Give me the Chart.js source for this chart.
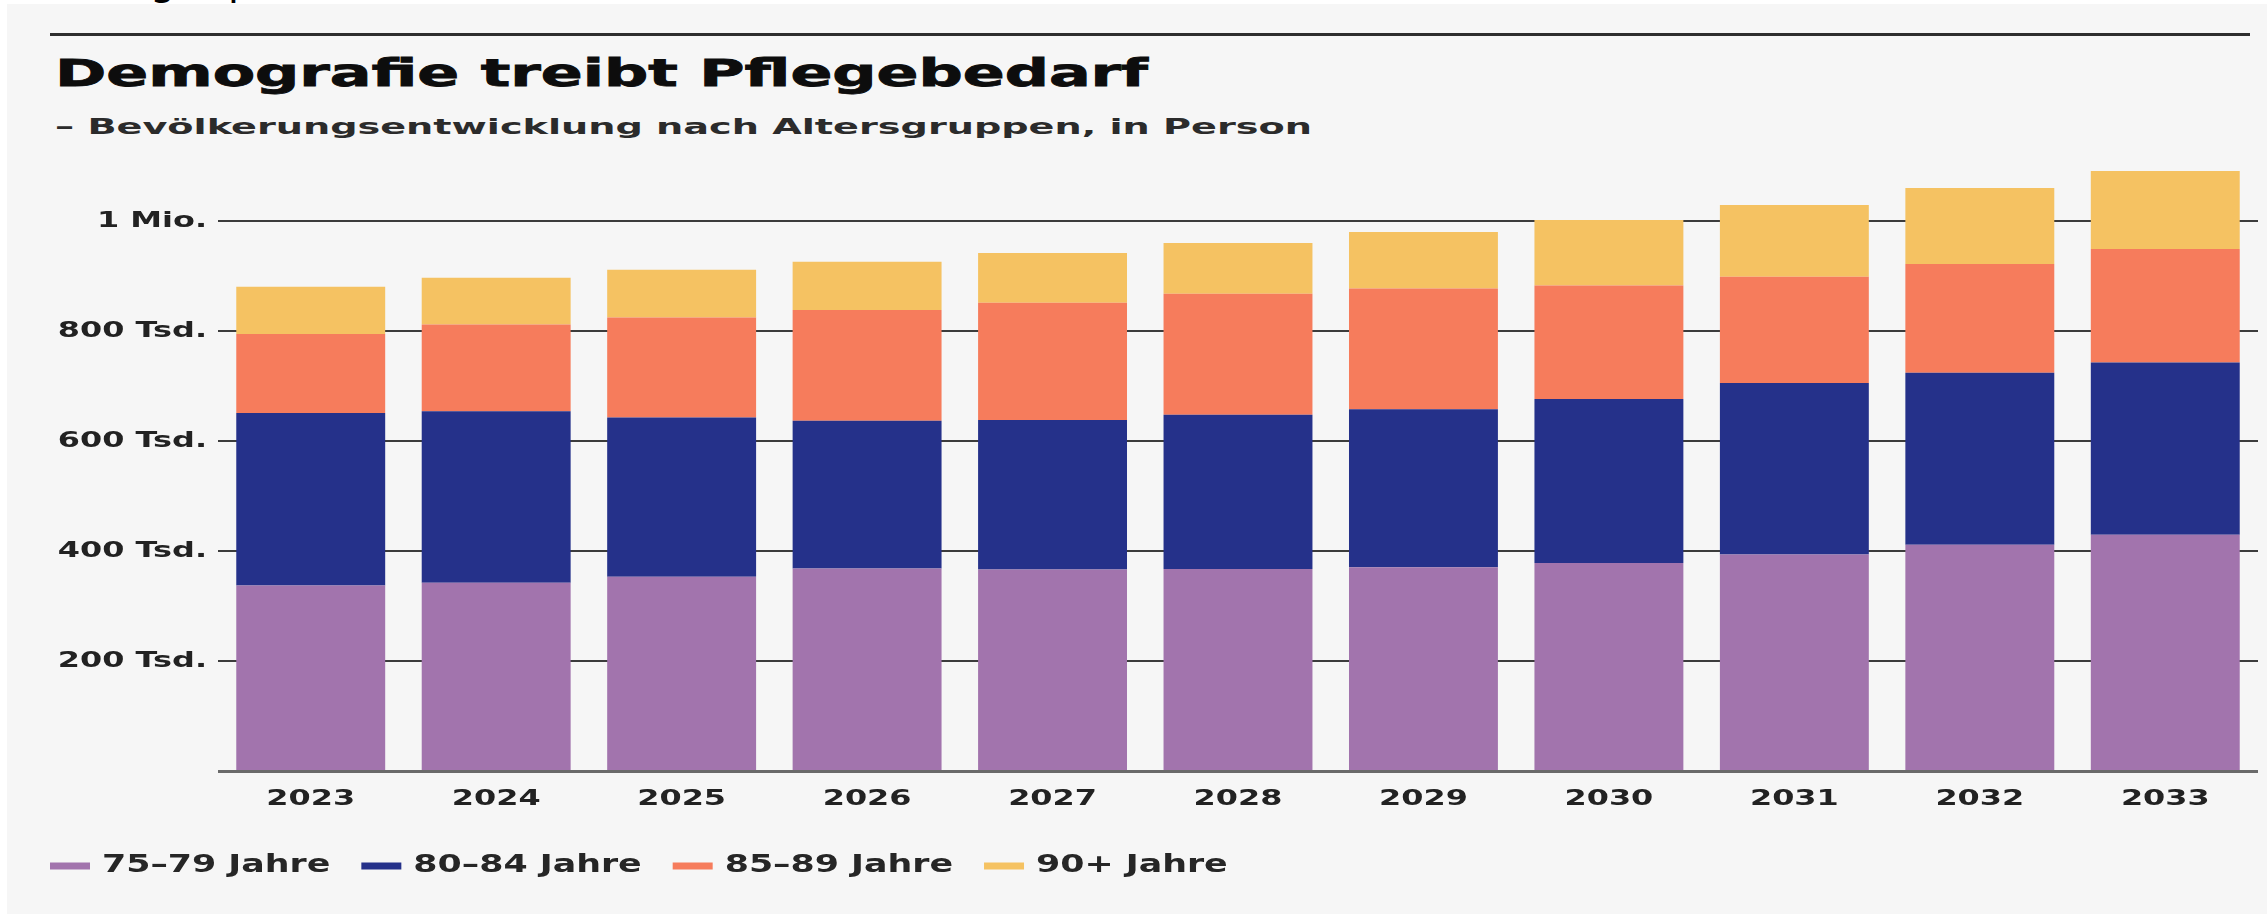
<!DOCTYPE html>
<html lang="de">
<head>
<meta charset="utf-8">
<script src="https://cdn.jsdelivr.net/npm/chart.js@4.4.1/dist/chart.umd.min.js"></script>
<style>
  html, body { margin: 0; padding: 0; background: #ffffff; }
  body { width: 2267px; height: 919px; position: relative; overflow: hidden; font-family: "DejaVu Sans", sans-serif; }
  #panel { position: absolute; left: 7px; top: 4px; width: 2260px; height: 910px; background: #f6f6f6; }
  #cut { position: absolute; left: 0; top: 0; width: 2267px; height: 4px; overflow: hidden; background: #fff; }
  #cut span { position: absolute; top: -43px; font: 40px "DejaVu Sans", sans-serif; color: #000; line-height: normal; }
  #rule { position: absolute; left: 50px; top: 33px; width: 2200px; height: 3px; background: #2e2e2e; }
  .txt { position: absolute; left: 55px; white-space: nowrap; line-height: normal; transform-origin: 0 0; display: inline-block; }
  #title { top: 52px; font-size: 37px; font-weight: bold; color: #0d0d0d; -webkit-text-stroke: 0.8px #0d0d0d; }
  #subtitle { top: 115px; font-size: 20.5px; font-weight: bold; color: #2b2b2b; }
  #chartCanvas { position: absolute; left: 0; top: 140px; }
</style>
</head>
<body>
<div id="panel"></div>
<div id="cut"><span style="left:150px">g</span><span style="left:228px">p</span></div>
<div id="rule"></div>
<div id="title" class="txt">Demografie treibt Pflegebedarf</div>
<div id="subtitle" class="txt">– Bevölkerungsentwicklung nach Altersgruppen, in Person</div>
<canvas id="chartCanvas" width="2267" height="779"></canvas>
<script>
// ---- data (persons) ----
const years = ['2023','2024','2025','2026','2027','2028','2029','2030','2031','2032','2033'];
const seriesNames = ['75–79 Jahre', '80–84 Jahre', '85–89 Jahre', '90+ Jahre'];
const age7579 = [338000, 343000, 354000, 369000, 367000, 368000, 371000, 379000, 394000, 412000, 430000];
const age8084 = [313500, 311500, 289000, 268000, 271500, 280000, 287000, 297500, 312000, 312500, 313000];
const age8589 = [143500, 157500, 182000, 201500, 213000, 220000, 219500, 206500, 193000, 197500, 206000];
const age90p  = [ 85500,  85000,  86500,  87500,  90500,  92000, 102500, 119000, 130000, 138000, 142000];
const yTickValues = [0, 200000, 400000, 600000, 800000, 1000000];
const yTickLabels = ['', '200 Tsd.', '400 Tsd.', '600 Tsd.', '800 Tsd.', '1 Mio.'];
const yMax = 1100000;

const colors = ['#a274ad', '#25318a', '#f67c5c', '#f5c262'];

// stretch HTML headings to the reference's extended letterforms
function fitWidth(id, target) {
  const el = document.getElementById(id);
  const w = el.getBoundingClientRect().width;
  el.style.transform = 'scaleX(' + (target / w) + ')';
}
fitWidth('title', 1093);
fitWidth('subtitle', 1257);

// extended (horizontally stretched) canvas text, like the reference typeface
const SX = 1.45;
const canvas = document.getElementById('chartCanvas');
const ctx2d = canvas.getContext('2d');
const origFill = ctx2d.fillText.bind(ctx2d);
const origMeasure = ctx2d.measureText.bind(ctx2d);
ctx2d.fillText = function (text, x, y, maxWidth) {
  this.save();
  this.translate(x, y);
  this.scale(SX, 1);
  origFill(text, 0, 0);
  this.restore();
};
ctx2d.measureText = function (text) {
  const m = origMeasure(text);
  return {
    width: m.width * SX,
    actualBoundingBoxAscent: m.actualBoundingBoxAscent,
    actualBoundingBoxDescent: m.actualBoundingBoxDescent,
    actualBoundingBoxLeft: m.actualBoundingBoxLeft * SX,
    actualBoundingBoxRight: m.actualBoundingBoxRight * SX,
    fontBoundingBoxAscent: m.fontBoundingBoxAscent,
    fontBoundingBoxDescent: m.fontBoundingBoxDescent
  };
};

const tickFont = { family: 'DejaVu Sans', weight: 'bold', size: 22 };
const dataSets = [age7579, age8084, age8589, age90p].map((d, i) => ({
  label: seriesNames[i],
  data: d,
  backgroundColor: colors[i],
  borderWidth: 0,
  barPercentage: 0.803,
  categoryPercentage: 1.0
}));

new Chart(canvas, {
  type: 'bar',
  data: { labels: years, datasets: dataSets },
  options: {
    responsive: false,
    animation: false,
    devicePixelRatio: 1,
    layout: { padding: { left: 19, right: 9, top: 26, bottom: 31 } },
    plugins: {
      tooltip: { enabled: false },
      title: { display: false },
      legend: {
        position: 'bottom',
        align: 'start',
        labels: {
          boxWidth: 40,
          boxHeight: 7,
          padding: 31,
          color: '#262626',
          font: { family: 'DejaVu Sans', weight: 'bold', size: 24 }
        }
      }
    },
    scales: {
      x: {
        stacked: true,
        grid: { display: false },
        border: { display: false },
        ticks: { color: '#222222', font: tickFont, padding: 7, maxRotation: 0, autoSkip: false },
        afterFit(scale) { scale.height = 51.5; }
      },
      y: {
        stacked: true,
        min: 0,
        max: yMax,
        border: { display: false },
        grid: {
          drawTicks: false,
          color: (c) => (c.tick && c.tick.value === 0) ? '#6a6a6a' : '#3c3c3c',
          lineWidth: (c) => (c.tick && c.tick.value === 0) ? 3 : 2
        },
        afterBuildTicks(scale) { scale.ticks = yTickValues.map(v => ({ value: v })); },
        ticks: {
          color: '#222222',
          font: tickFont,
          padding: 11,
          callback: (v) => { const i = yTickValues.indexOf(v); return i >= 0 ? yTickLabels[i] : ''; }
        },
        afterFit(scale) { scale.width = 199; }
      }
    }
  }
});
</script>
</body>
</html>
